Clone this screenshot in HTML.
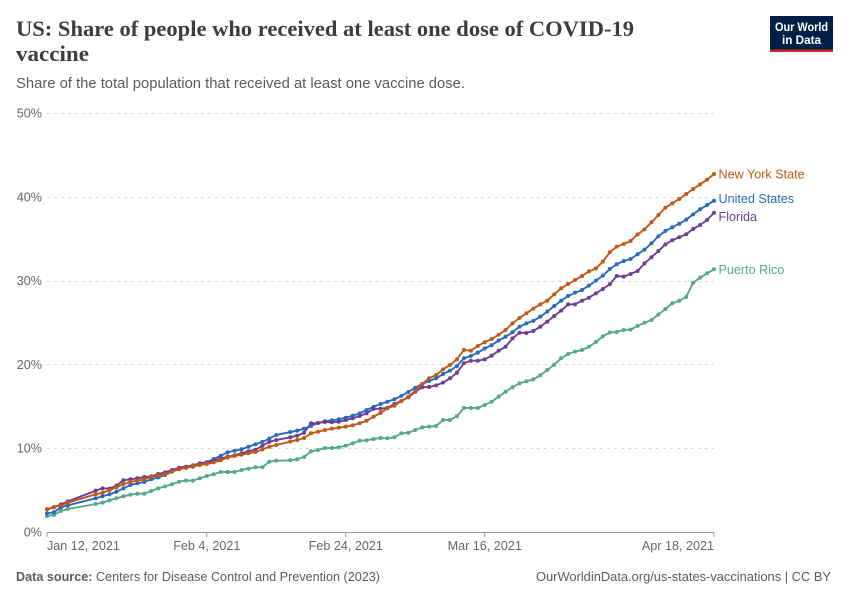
<!DOCTYPE html>
<html lang="en">
<head>
<meta charset="utf-8">
<title>US: Share of people who received at least one dose of COVID-19 vaccine</title>
<style>
html,body{margin:0;padding:0;background:#fff;}
svg{display:block;font-family:"Liberation Sans",sans-serif;}
</style>
</head>
<body>
<svg id="chart" xmlns="http://www.w3.org/2000/svg" width="850" height="600" viewBox="0 0 850 600">
  <rect width="850" height="600" fill="#ffffff"/>
  <g font-family="'Liberation Serif',serif" font-weight="700" font-size="22" fill="#3d3d3d">
    <text x="16" y="36" textLength="618" lengthAdjust="spacingAndGlyphs">US: Share of people who received at least one dose of COVID-19</text>
    <text x="16" y="61" textLength="73" lengthAdjust="spacingAndGlyphs">vaccine</text>
  </g>
  <text x="16" y="88" font-size="14.5" fill="#5b5b5b" textLength="449" lengthAdjust="spacingAndGlyphs">Share of the total population that received at least one vaccine dose.</text>
  <g>
    <rect x="770" y="16" width="63" height="36" fill="#002147"/>
    <rect x="770" y="49.5" width="63" height="2.5" fill="#ce261e"/>
    <text x="801.5" y="31" font-size="12" font-weight="700" fill="#ffffff" text-anchor="middle" textLength="53" lengthAdjust="spacingAndGlyphs">Our World</text>
    <text x="801.5" y="44" font-size="12" font-weight="700" fill="#ffffff" text-anchor="middle" textLength="39" lengthAdjust="spacingAndGlyphs">in Data</text>
  </g>
  <g id="grid"></g>
  <g id="axes"></g>
  <g id="series"></g>
  <g id="labels"></g>
  <text x="16" y="581" font-size="12.6" fill="#5b5b5b" textLength="364" lengthAdjust="spacingAndGlyphs"><tspan font-weight="700">Data source:</tspan> Centers for Disease Control and Prevention (2023)</text>
  <text x="831" y="581" font-size="12.6" fill="#5b5b5b" text-anchor="end" textLength="295" lengthAdjust="spacingAndGlyphs">OurWorldinData.org/us-states-vaccinations | CC BY</text>
</svg>
<script>
// Days since Jan 12, 2021
const days = [0,1,2,3,
  7,8,9,10,11,12,13,14,15,16,17,18,19,20,21,22,23,24,25,26,27,28,29,30,31,32,33,
  35,36,37,38,39,40,41,42,43,44,45,46,47,48,49,50,51,52,53,54,55,56,57,58,59,60,61,62,63,64,65,
  66,67,68,69,70,71,72,73,74,75,76,77,78,79,80,81,82,83,84,85,86,87,88,89,90,91,92,93,94,95,96];

const puertoRico = [1.91,2.03,2.5,2.74,
  3.34,3.5,3.78,4.02,4.26,4.45,4.57,4.57,4.89,5.2,5.45,5.7,6.0,6.15,6.12,6.41,6.68,6.89,7.16,7.16,7.16,7.4,7.55,7.72,7.74,8.39,8.51,
  8.56,8.67,8.95,9.63,9.79,10.02,10.02,10.1,10.3,10.58,10.9,10.94,11.1,11.22,11.18,11.3,11.78,11.85,12.17,12.49,12.57,12.65,13.37,13.37,13.81,14.8,14.8,14.8,15.16,15.55,16.15,
  16.74,17.27,17.74,17.98,18.22,18.7,19.33,19.96,20.73,21.24,21.52,21.72,22.11,22.67,23.35,23.8,23.87,24.1,24.15,24.6,24.97,25.3,25.95,26.6,27.3,27.6,28.05,29.75,30.35,30.87,31.35];

const unitedStates = [2.23,2.35,2.95,3.19,
  4.02,4.26,4.5,4.81,5.21,5.61,5.81,5.97,6.29,6.5,6.8,7.2,7.52,7.67,7.79,8.03,8.32,8.71,9.1,9.51,9.7,9.87,10.18,10.47,10.75,11.15,11.58,
  11.93,12.09,12.33,12.65,13.0,13.21,13.33,13.45,13.64,13.88,14.16,14.56,14.95,15.27,15.55,15.84,16.23,16.71,17.22,17.66,18.02,18.34,18.85,19.25,19.81,20.73,21.0,21.4,21.9,22.3,22.85,
  23.3,23.83,24.5,24.9,25.2,25.7,26.3,26.97,27.6,28.16,28.56,28.88,29.4,30.0,30.59,31.38,31.95,32.34,32.58,33.14,33.69,34.45,35.29,35.92,36.36,36.79,37.27,37.91,38.51,39.02,39.53];

const florida = [2.7,2.95,3.3,3.66,
  4.93,5.21,5.17,5.53,6.17,6.29,6.41,6.56,6.65,6.92,7.12,7.4,7.67,7.79,7.96,8.2,8.32,8.51,8.75,8.99,9.15,9.39,9.63,9.82,10.3,10.75,10.98,
  11.3,11.49,11.85,12.97,13.0,13.13,13.09,13.16,13.36,13.57,13.84,14.16,14.7,14.71,14.83,15.27,15.63,16.07,16.74,17.27,17.3,17.5,17.82,18.34,19.01,20.13,20.44,20.44,20.6,21.04,21.63,
  22.1,23.11,23.78,23.75,23.99,24.5,25.1,25.78,26.41,27.17,27.17,27.6,27.96,28.48,29.0,29.56,30.55,30.47,30.79,31.15,32.06,32.78,33.53,34.33,34.81,35.17,35.53,36.16,36.63,37.23,38.1];

const newYorkState = [2.74,2.98,3.18,3.5,
  4.5,4.69,5.0,5.33,5.73,5.97,6.12,6.29,6.6,6.72,6.92,7.2,7.48,7.67,7.88,8.0,8.11,8.32,8.56,8.87,9.07,9.22,9.39,9.55,9.85,10.18,10.38,
  10.78,10.98,11.22,11.78,11.97,12.17,12.33,12.45,12.57,12.73,12.97,13.28,13.75,14.2,14.76,15.07,15.63,16.15,16.86,17.66,18.34,18.73,19.41,19.93,20.6,21.72,21.63,22.2,22.65,23.03,23.54,
  24.1,24.9,25.54,26.1,26.65,27.17,27.6,28.36,29.08,29.59,30.07,30.55,31.1,31.45,32.26,33.38,34.05,34.37,34.73,35.52,36.12,36.96,37.83,38.7,39.22,39.74,40.33,40.93,41.49,42.04,42.72];

const yTicks = [0,10,20,30,40,50];
const xTickDays = [0,23,43,63,96];
const xTickLabels = ["Jan 12, 2021","Feb 4, 2021","Feb 24, 2021","Mar 16, 2021","Apr 18, 2021"];

const NS = "http://www.w3.org/2000/svg";
const PLOT = {left:47,right:714,top:113,bottom:532,maxDay:96,maxVal:50};
function xScale(d){return PLOT.left+(PLOT.right-PLOT.left)*d/PLOT.maxDay;}
function yScale(v){return PLOT.bottom-(PLOT.bottom-PLOT.top)*v/PLOT.maxVal;}
function make(tag,attrs,parent){
  const el=document.createElementNS(NS,tag);
  for(const k in attrs){el.setAttribute(k,attrs[k]);}
  parent.appendChild(el);
  return el;
}

const grid=document.getElementById("grid");
const axes=document.getElementById("axes");
yTicks.forEach(function(t){
  if(t>0){
    const gy=Math.round(yScale(t))+0.5;
    const g=make("line",{x1:PLOT.left,x2:PLOT.right,y1:gy,y2:gy,stroke:"#dadada","stroke-dasharray":"3,4"},grid);
    
    
  }
  const lab=make("text",{x:42,y:yScale(t)+4.5,"font-size":12.6,fill:"#666666","text-anchor":"end"},axes);
  lab.textContent=t+"%";
  
  
});
const axisLine=make("line",{x1:PLOT.left,x2:PLOT.right,y1:PLOT.bottom+0.5,y2:PLOT.bottom+0.5,stroke:"#999999"},axes);


xTickDays.forEach(function(d,i){
  const x=xScale(d);
  const tick=make("line",{x1:x,x2:x,y1:PLOT.bottom,y2:PLOT.bottom+5,stroke:"#999999"},axes);
  
  
  const anchor=i===0?"start":(i===xTickDays.length-1?"end":"middle");
  const lab=make("text",{x:x,y:550,"font-size":12.6,fill:"#666666","text-anchor":anchor},axes);
  lab.textContent=xTickLabels[i];
  
  
});

const seriesList=[
  {name:"Puerto Rico",key:"puerto-rico",values:puertoRico,color:"#55a888",labelColor:"#58a88a",nudge:0},
  {name:"United States",key:"united-states",values:unitedStates,color:"#286bbb",labelColor:"#286bbb",nudge:-2},
  {name:"Florida",key:"florida",values:florida,color:"#6d3e91",labelColor:"#6d3e91",nudge:4},
  {name:"New York State",key:"new-york-state",values:newYorkState,color:"#c05917",labelColor:"#c05917",nudge:0}
];
const seriesGroup=document.getElementById("series");
const labelGroup=document.getElementById("labels");
seriesList.forEach(function(s){
  const g=make("g",{},seriesGroup);
  
  
  const pts=s.values.map(function(v,i){return xScale(days[i]).toFixed(2)+","+yScale(v).toFixed(2);}).join(" ");
  const line=make("polyline",{points:pts,fill:"none",stroke:s.color,"stroke-width":1.9,"stroke-linejoin":"round"},g);
  
  
  s.values.forEach(function(v,i){
    const c=make("circle",{cx:xScale(days[i]),cy:yScale(v),r:2,fill:s.color},g);
    
    
  });
  const last=s.values[s.values.length-1];
  const lab=make("text",{x:718.5,y:yScale(last)+4.5+s.nudge,"font-size":12.6,fill:s.labelColor},labelGroup);
  lab.textContent=s.name;
  
  
});
</script>
</body>
</html>
